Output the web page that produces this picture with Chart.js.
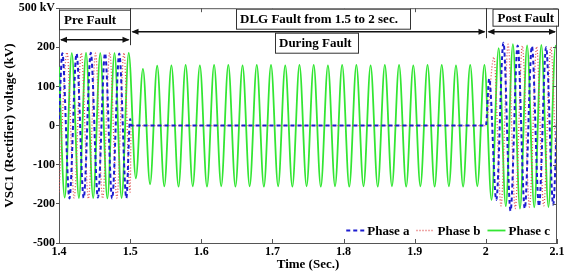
<!DOCTYPE html>
<html><head><meta charset="utf-8">
<script src="https://cdn.jsdelivr.net/npm/chart.js@4/dist/chart.umd.min.js"></script>
<style>html,body{margin:0;padding:0;background:#fff}#wrap{width:568px;height:273px;position:relative}</style>
</head><body><div id="wrap"><canvas id="c"></canvas></div>
<script>
// ---- data ----
const xTickValues = [1.4, 1.5, 1.6, 1.7, 1.8, 1.9, 2.0, 2.1];
const xTickLabels = ['1.4', '1.5', '1.6', '1.7', '1.8', '1.9', '2', '2.1'];
const yTickValues = [-300, -200, -100, 0, 100, 200, 300];
const yTickLabels = ['-500', '-200', '-100', '0', '100', '200', '500 kV'];
const seriesLabels = ['Phase a', 'Phase b', 'Phase c'];

const halfCycle = 0.01;          // 50 Hz: one extreme every 10 ms
const faultStart = 1.5;
const faultEnd = 2.0;

// Phase a: extremes (kV) before and after the fault
const phaseA_preT0 = 1.4047;
const phaseA_pre = [185, -186, 184, -185, 186, -184, 185, -186, 184, -185];
const phaseA_postT0 = 2.0047;
const phaseA_post = [120, -190, 212, -218, 205, -212, 203, -206, 200, -202];
const phaseA_ends = [17, 17, 18];      // at 1.4, at fault start, at 2.1

// Phase b
const phaseB_preT0 = 1.4113;
const phaseB_pre = [187, -185, 186, -187, 185, -186, 187, -185, 186];
const phaseB_postT0 = 2.0113;
const phaseB_post = [175, -205, 208, -212, 204, -208, 202, -205, 200];
const phaseB_ends = [-170, -170, -185];

// Phase c (healthy phase, keeps oscillating during the fault)
const phaseC_preT0 = 1.408;
const phaseC_pre = [-184, 185, -185, 186, -185, 185, -186, 185, -185, 186];
const phaseC_faultT0 = 1.508;
const phaseC_fault = [-135, 145, -150, 153, -155, 154, -156, 155, -155, 154,
                      -156, 155, -155, 155, -156, 154, -155, 155, -156, 155,
                      -155, 154, -156, 155, -155, 155, -156, 154, -155, 155,
                      -156, 155, -155, 154, -156, 155, -155, 155, -156, 154,
                      -155, 155, -156, 155, -155, 154, -156, 155, -155, 155];
const phaseC_postT0 = 2.008;
const phaseC_post = [-190, 198, -206, 208, -212, 205, -209, 206, -208, 204];
const phaseC_ends = [150, 195];        // at 1.4 and 2.1

// ---- build point lists from the arrays ----
function extremes(t0, vals) {
  return vals.map((v, i) => ({x: +(t0 + i * halfCycle).toFixed(4), y: v}));
}
function faultedPhase(preT0, pre, postT0, post, ends) {
  return [{x: 1.4, y: ends[0]}]
    .concat(extremes(preT0, pre))
    .concat([{x: faultStart, y: ends[1]}, {x: faultStart + 0.0015, y: 0}, {x: faultEnd, y: 0}])
    .concat(extremes(postT0, post))
    .concat([{x: 2.1, y: ends[2]}]);
}
const dataA = faultedPhase(phaseA_preT0, phaseA_pre, phaseA_postT0, phaseA_post, phaseA_ends);
const dataB = faultedPhase(phaseB_preT0, phaseB_pre, phaseB_postT0, phaseB_post, phaseB_ends);
const dataC = [{x: 1.4, y: phaseC_ends[0]}]
  .concat(extremes(phaseC_preT0, phaseC_pre))
  .concat(extremes(phaseC_faultT0, phaseC_fault))
  .concat(extremes(phaseC_postT0, phaseC_post))
  .concat([{x: 2.1, y: phaseC_ends[1]}]);

const SERIF = "'Liberation Serif', 'Times New Roman', serif";
const AXIS = '#555';

function arrowHead(ctx, x, y, dir) {
  ctx.beginPath();
  ctx.moveTo(x, y);
  ctx.lineTo(x - dir * 7, y - 3);
  ctx.lineTo(x - dir * 7, y + 3);
  ctx.closePath();
  ctx.fill();
}
function box(ctx, x1, y1, x2, y2, text, tx) {
  ctx.fillStyle = '#fff';
  ctx.fillRect(x1, y1, x2 - x1, y2 - y1);
  ctx.strokeStyle = '#333';
  ctx.lineWidth = 1;
  ctx.strokeRect(x1 + 0.5, y1 + 0.5, x2 - x1, y2 - y1);
  ctx.fillStyle = '#000';
  ctx.font = 'bold 13px ' + SERIF;
  ctx.textBaseline = 'middle';
  ctx.textAlign = 'left';
  ctx.fillText(text, tx, (y1 + y2) / 2 + 1);
}

const decor = {
  id: 'decor',
  afterDatasetsDraw(chart) {
    const ctx = chart.ctx, a = chart.chartArea;
    const xs = chart.scales.x, ys = chart.scales.y;
    ctx.save();
    // frame: top and right borders
    ctx.strokeStyle = AXIS; ctx.lineWidth = 1;
    ctx.beginPath();
    ctx.moveTo(a.left, a.top + 0.5); ctx.lineTo(a.right, a.top + 0.5);
    ctx.moveTo(a.right - 0.5, a.top); ctx.lineTo(a.right - 0.5, a.bottom);
    ctx.stroke();
    // inward ticks
    ctx.beginPath();
    xTickValues.forEach(v => {
      const px = Math.round(xs.getPixelForValue(v)) + 0.5;
      ctx.moveTo(px, a.bottom); ctx.lineTo(px, a.bottom - 4);
      ctx.moveTo(px, a.top); ctx.lineTo(px, a.top + 4);
    });
    yTickValues.forEach(v => {
      const py = Math.round(ys.getPixelForValue(v)) + 0.5;
      ctx.moveTo(a.right, py); ctx.lineTo(a.right - 4, py);
    });
    ctx.stroke();

    // annotations
    const x14 = xs.getPixelForValue(1.4), x15 = Math.round(xs.getPixelForValue(faultStart)) + 0.5;
    const x20 = Math.round(xs.getPixelForValue(faultEnd)) + 0.5, x21 = xs.getPixelForValue(2.1);
    const T = a.top;
    ctx.strokeStyle = '#333'; ctx.fillStyle = '#000'; ctx.lineWidth = 1;
    ctx.beginPath();
    ctx.moveTo(x15, T); ctx.lineTo(x15, T + 37);
    ctx.moveTo(x20, T); ctx.lineTo(x20, T + 30);
    ctx.stroke();

    box(ctx, x14, T + 1.5, x15 - 0.5, T + 21, 'Pre Fault', x14 + 5);
    box(ctx, a.left + 177, T + 0.5, a.left + 351, T + 20.5, 'DLG Fault from 1.5 to 2 sec.', a.left + 181);
    box(ctx, a.left + 216, T + 24.5, a.left + 299, T + 44.5, 'During Fault', a.left + 220);
    box(ctx, x20 + 6, T + 0.5, x21 + 1, T + 17.5, 'Post Fault', x20 + 11);

    ctx.strokeStyle = '#111'; ctx.fillStyle = '#111'; ctx.lineWidth = 1.5;
    // pre fault arrow
    let y = T + 31.5;
    ctx.beginPath(); ctx.moveTo(x14 + 2, y); ctx.lineTo(x15 - 2, y); ctx.stroke();
    arrowHead(ctx, x14 + 1, y, -1); arrowHead(ctx, x15 - 1, y, 1);
    // during fault arrow
    y = T + 23.5;
    ctx.beginPath(); ctx.moveTo(x15 + 2, y); ctx.lineTo(x20 - 2, y); ctx.stroke();
    arrowHead(ctx, x15 + 1, y, -1); arrowHead(ctx, x20 - 1, y, 1);
    // post fault arrow
    ctx.beginPath(); ctx.moveTo(x20 + 2, y); ctx.lineTo(x21 - 2, y); ctx.stroke();
    arrowHead(ctx, x20 + 1, y, -1); arrowHead(ctx, x21 - 1, y, 1);

    // legend (bottom right inside plot)
    ctx.font = 'bold 13px ' + SERIF;
    ctx.textBaseline = 'middle'; ctx.textAlign = 'left';
    const ds = chart.data.datasets;
    const sample = 18, gap1 = 3, gap2 = 7;
    let total = 0;
    ds.forEach((d, i) => { total += sample + gap1 + ctx.measureText(d.label).width + (i < ds.length - 1 ? gap2 : 0); });
    let lx = a.right - 7 - total;
    const ly = a.bottom - 12.5;
    ds.forEach(d => {
      ctx.save();
      ctx.strokeStyle = d.borderColor; ctx.lineWidth = d.borderWidth;
      ctx.setLineDash(d.borderDash || []);
      ctx.beginPath(); ctx.moveTo(lx, ly); ctx.lineTo(lx + sample, ly); ctx.stroke();
      ctx.restore();
      lx += sample + gap1;
      ctx.fillStyle = '#000';
      ctx.fillText(d.label, lx, ly + 1);
      lx += ctx.measureText(d.label).width + gap2;
    });
    ctx.restore();
  }
};

const common = {pointRadius: 0, fill: false, cubicInterpolationMode: 'monotone'};
new Chart(document.getElementById('c'), {
  type: 'line',
  data: {
    datasets: [
      Object.assign({label: seriesLabels[0], data: dataA, borderColor: '#1c1cd0', borderWidth: 2, borderDash: [4, 3]}, common),
      Object.assign({label: seriesLabels[1], data: dataB, borderColor: '#e05050', borderWidth: 1.3, borderDash: [1, 2]}, common),
      Object.assign({label: seriesLabels[2], data: dataC, borderColor: '#33e633', borderWidth: 1.8}, common)
    ]
  },
  options: {
    responsive: true,
    maintainAspectRatio: false,
    animation: false,
    events: [],
    layout: {padding: {top: 0, right: 11, left: 0, bottom: 0}},
    plugins: {legend: {display: false}, tooltip: {enabled: false}},
    scales: {
      x: {
        type: 'linear', min: 1.4, max: 2.1,
        afterBuildTicks: s => { s.ticks = xTickValues.map(v => ({value: v})); },
        afterFit: s => { s.height = 30; },
        ticks: {
          autoSkip: false, maxRotation: 0, padding: 2, color: '#000',
          font: {family: SERIF, size: 12, weight: 'bold'},
          callback: (v) => { const i = xTickValues.findIndex(t => Math.abs(t - v) < 1e-6); return i >= 0 ? xTickLabels[i] : ''; }
        },
        grid: {display: false, drawTicks: false},
        border: {display: true, color: AXIS},
        title: {display: true, text: 'Time (Sec.)', color: '#000', padding: {top: 0, bottom: 1},
                font: {family: SERIF, size: 13, weight: 'bold'}}
      },
      y: {
        type: 'linear', min: -300, max: 300,
        afterBuildTicks: s => { s.ticks = yTickValues.map(v => ({value: v})); },
        afterFit: s => { s.width = 59; },
        ticks: {
          autoSkip: false, padding: 1, color: '#000',
          font: {family: SERIF, size: 12, weight: 'bold'},
          callback: (v) => { const i = yTickValues.indexOf(v); return i >= 0 ? yTickLabels[i] : ''; }
        },
        grid: {drawOnChartArea: false, drawTicks: true, tickLength: 3, color: AXIS},
        border: {display: true, color: AXIS},
        title: {display: true, text: 'VSC1 (Rectifier) voltage (kV)', color: '#000', padding: {top: 2, bottom: 0},
                font: {family: SERIF, size: 13, weight: 'bold'}}
      }
    }
  },
  plugins: [decor]
});
</script>
</body></html>
